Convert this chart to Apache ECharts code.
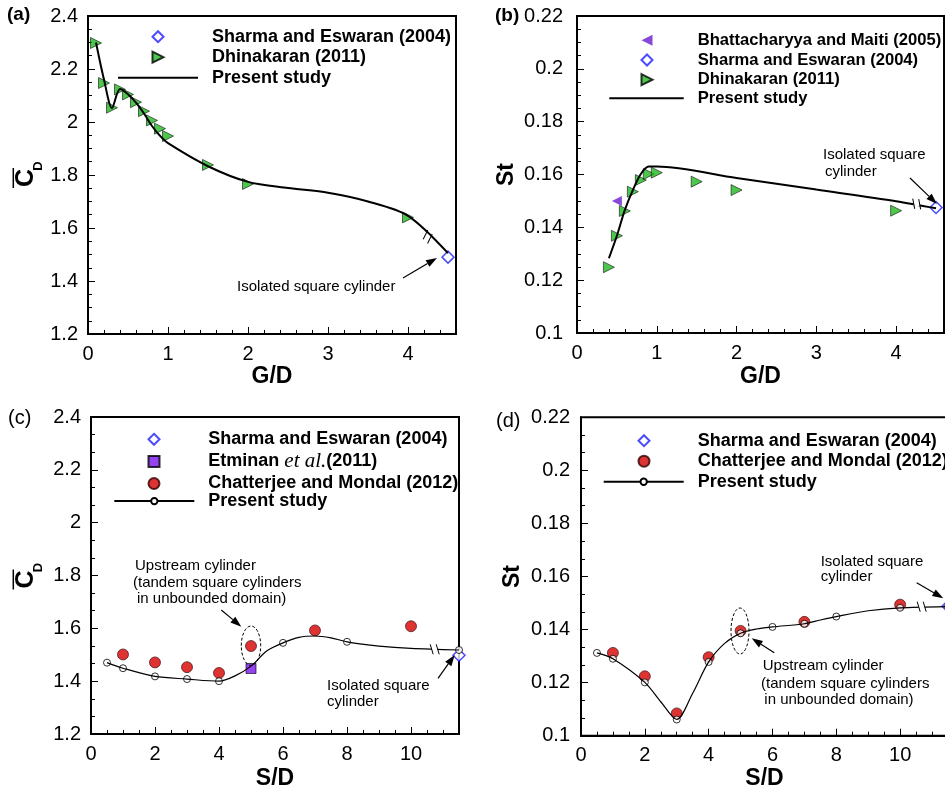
<!DOCTYPE html>
<html>
<head>
<meta charset="utf-8">
<script src="https://cdn.jsdelivr.net/npm/echarts@6/dist/echarts.min.js"></script>
<style>
  body { margin: 0; background: #fff; }
  .panel { position: absolute; overflow: hidden; }
</style>
</head>
<body>
<div id="pa" class="panel" style="left:0;top:0;width:472px;height:390px"></div>
<div id="pb" class="panel" style="left:472px;top:0;width:473px;height:390px"></div>
<div id="pc" class="panel" style="left:0;top:390px;width:472px;height:401px"></div>
<div id="pd" class="panel" style="left:472px;top:390px;width:473px;height:401px"></div>
<script>
// ---- panel (a): mean drag vs G/D
const gdA_sharma = [4.5];
const cdA_sharma = [1.49];
const gdA_dhin = [0.1, 0.2, 0.3, 0.4, 0.5, 0.6, 0.7, 0.8, 0.9, 1.0, 1.5, 2.0, 4.0];
const cdA_dhin = [2.298, 2.147, 2.054, 2.123, 2.104, 2.075, 2.041, 2.006, 1.975, 1.947, 1.838, 1.766, 1.640];
const gdA_pres = [0.1, 0.2, 0.3, 0.4, 0.5, 0.6, 0.7, 0.8, 0.9, 1.0, 1.5, 2.0, 2.5, 3.0, 3.5, 4.0, 4.5];
const cdA_pres = [2.30, 2.16, 2.053, 2.125, 2.105, 2.073, 2.032, 1.985, 1.948, 1.92, 1.833, 1.774, 1.751, 1.733, 1.70, 1.646, 1.505];

// ---- panel (b): St vs G/D
const gdB_bhatt = [0.5];
const stB_bhatt = [0.150];
const gdB_sharma = [4.5];
const stB_sharma = [0.1475];
const gdB_dhin = [0.4, 0.5, 0.6, 0.7, 0.8, 0.9, 1.0, 1.5, 2.0, 4.0];
const stB_dhin = [0.1249, 0.1368, 0.1462, 0.1535, 0.1579, 0.1602, 0.1607, 0.1573, 0.1541, 0.1463];
const gdB_pres = [0.4, 0.5, 0.6, 0.7, 0.8, 0.9, 1.0, 2.0, 3.0, 4.0, 4.5];
const stB_pres = [0.1283, 0.1368, 0.1466, 0.1541, 0.1602, 0.1630, 0.1630, 0.1587, 0.1543, 0.1499, 0.1472];

// ---- panel (c): mean drag vs S/D
const sdC_sharma = [11.5];
const cdC_sharma = [1.498];
const sdC_etminan = [5];
const cdC_etminan = [1.448];
const sdC_chat = [1, 2, 3, 4, 5, 7, 10];
const cdC_chat = [1.501, 1.471, 1.453, 1.431, 1.533, 1.592, 1.608];
const sdC_curve = [0.5, 1, 2, 3, 4, 4.5, 5, 5.5, 6, 6.5, 7, 7.5, 8, 9, 10, 11.5];
const cdC_curve = [1.470, 1.449, 1.418, 1.408, 1.400, 1.420, 1.457, 1.515, 1.545, 1.566, 1.571, 1.564, 1.549, 1.533, 1.524, 1.518];
const sdC_pts = [0.5, 1, 2, 3, 4, 6, 8, 11.5];
const cdC_pts = [1.470, 1.449, 1.418, 1.408, 1.400, 1.545, 1.549, 1.518];

// ---- panel (d): St vs S/D
const sdD_sharma = [11.5];
const stD_sharma = [0.1488];
const sdD_chat = [1, 2, 3, 4, 5, 7, 10];
const stD_chat = [0.1312, 0.1224, 0.1084, 0.1296, 0.1395, 0.1429, 0.1494];
const sdD_curve = [0.5, 1, 2, 2.5, 3, 3.5, 4, 4.5, 5, 5.5, 6, 7, 7.5, 8, 9, 10, 11.5];
const stD_curve = [0.1312, 0.129, 0.1201, 0.1128, 0.1061, 0.116, 0.1278, 0.1348, 0.1386, 0.1402, 0.141, 0.1422, 0.1436, 0.1449, 0.1471, 0.1482, 0.1487];
const sdD_pts = [0.5, 1, 2, 3, 4, 5, 6, 7, 8, 10, 11.5];
const stD_pts = [0.1312, 0.129, 0.1201, 0.1061, 0.1278, 0.1386, 0.141, 0.1422, 0.1449, 0.1482, 0.1487];

const FONT = 'Liberation Sans, Arial, Helvetica, sans-serif';

// legend icons for the sideways triangles (legend does not pick up symbolRotate)
const RIGHT_TRI = 'path://M0,0L10,5L0,10Z';
const LEFT_TRI = 'path://M10,0L0,5L10,10Z';

function pairs(xs, ys) {
    return xs.map((x, i) => [x, ys[i]]);
}

// marker styles shared by the panels
const sharmaStyle = { type: 'scatter', symbol: 'diamond', symbolSize: 12, itemStyle: { color: '#fff', borderColor: '#1f1fff', borderWidth: 1.5 } };
const dhinStyle = { type: 'scatter', symbol: 'triangle', symbolRotate: -90, symbolSize: 11, itemStyle: { color: '#22b822', borderColor: '#000', borderWidth: 0.7 } };
const chatStyle = { type: 'scatter', symbol: 'circle', symbolSize: 11, itemStyle: { color: '#d40000', borderColor: '#300', borderWidth: 0.8 } };
const openStyle = { type: 'scatter', symbol: 'circle', symbolSize: 7, itemStyle: { color: '#fff', borderColor: '#000', borderWidth: 1 } };

function xAxes(max, step, minorStep, name, nameGap) {
    return [{
        type: 'value', min: 0, max: max, interval: step,
        name: name, nameLocation: 'middle', nameGap: nameGap, nameMoveOverlap: false,
        nameTextStyle: { fontFamily: FONT, fontWeight: 'bold', fontSize: 23, color: '#000' },
        axisLine: { show: true, onZero: false, lineStyle: { color: '#000', width: 2 } },
        axisTick: { show: true, inside: true, length: 7, lineStyle: { color: '#000' } },
        axisLabel: {
            fontFamily: FONT, fontSize: 20, color: '#000', margin: 10,
            formatter: v => Math.abs(v / step - Math.round(v / step)) < 1e-6 ? String(v) : ''
        },
        splitLine: { show: false }
    }, {
        // minor ticks only
        type: 'value', min: 0, max: max, interval: minorStep, position: 'bottom',
        axisLine: { show: false }, axisLabel: { show: false }, splitLine: { show: false },
        axisTick: { show: true, inside: true, length: 4, lineStyle: { color: '#000' } }
    }];
}

function yAxis(min, max, step, minorSplit, margin, name, nameGap) {
    return {
        type: 'value', min: min, max: max, interval: step,
        name: name || '', nameLocation: 'middle', nameGap: nameGap || 0, nameRotate: 90, nameMoveOverlap: false,
        nameTextStyle: { fontFamily: FONT, fontWeight: 'bold', fontSize: 23, color: '#000' },
        axisLine: { show: true, onZero: false, lineStyle: { color: '#000', width: 2 } },
        axisTick: { show: true, inside: true, length: 7, lineStyle: { color: '#000' } },
        minorTick: { show: true, splitNumber: minorSplit, length: 4, lineStyle: { color: '#000' } },
        axisLabel: { fontFamily: FONT, fontSize: 20, color: '#000', margin: margin },
        splitLine: { show: false }
    };
}

// two legend blocks: markers (small icon box) and the line entry (wide icon box)
function legendsOf(cfg) {
    const rowH = cfg.fontSize + cfg.gap;
    const textStyle = pad => ({
        fontFamily: FONT, fontWeight: 'bold', fontSize: cfg.fontSize, color: '#000',
        lineHeight: cfg.fontSize, padding: [0, 0, 0, pad],
        rich: { i: { fontFamily: 'Liberation Serif', fontStyle: 'italic', fontWeight: 'normal', fontSize: 21, color: '#000' } }
    });
    const base = {
        orient: 'vertical', padding: 0, itemGap: cfg.gap, selectedMode: false,
        formatter: n => n === 'Etminan et al. (2011)' ? 'Etminan {i|et al.}(2011)' : n
    };
    const s = 11;
    const markData = cfg.marks.map(n => {
        if (n === 'Dhinakaran (2011)') return { name: n, icon: RIGHT_TRI };
        if (n === 'Bhattacharyya and Maiti (2005)') return { name: n, icon: LEFT_TRI };
        return n;
    });
    return [
        Object.assign({}, base, {
            left: cfg.cx - s / 2, top: cfg.top, itemWidth: s, itemHeight: s,
            data: markData,
            textStyle: textStyle(cfg.textX - (cfg.cx - s / 2) - s - 5)
        }),
        Object.assign({}, base, {
            left: cfg.lineLeft, top: cfg.top + cfg.marks.length * rowH, itemWidth: cfg.lineW, itemHeight: 8,
            data: [cfg.plain ? { name: 'Present study', itemStyle: { opacity: 0 } } : 'Present study'],
            textStyle: textStyle(cfg.textX - cfg.lineLeft - cfg.lineW - 5)
        })
    ];
}

// ---- graphic helpers (annotations)
function txt(x, y, s, size, weight) {
    return {
        type: 'text', x: x, y: y, z: 100,
        style: {
            text: s, fill: '#000', fontFamily: FONT, fontSize: size || 15, fontWeight: weight || 'normal',
            textVerticalAlign: 'middle', verticalAlign: 'middle'
        }
    };
}

function arrow(x1, y1, x2, y2) {
    const a = Math.atan2(y2 - y1, x2 - x1), L = 11, W = 3.8;
    const bx = x2 - L * Math.cos(a), by = y2 - L * Math.sin(a);
    const px = -Math.sin(a) * W, py = Math.cos(a) * W;
    return [
        { type: 'line', z: 100, shape: { x1: x1, y1: y1, x2: bx, y2: by }, style: { stroke: '#000', lineWidth: 1.2 } },
        { type: 'polygon', z: 100, shape: { points: [[x2, y2], [bx + px, by + py], [bx - px, by - py]] }, style: { fill: '#000' } }
    ];
}

function ellipse(cx, cy, rx, ry) {
    return { type: 'ellipse', z: 100, shape: { cx: cx, cy: cy, rx: rx, ry: ry }, style: { fill: 'none', stroke: '#000', lineWidth: 1, lineDash: [3, 2] } };
}

// small break mark sitting on the curve
function brk(x, y, rot) {
    return {
        type: 'group', x: x, y: y, rotation: rot, z: 100,
        children: [
            { type: 'rect', z: 100, shape: { x: -3, y: -2, width: 6, height: 4 }, style: { fill: '#fff' } },
            { type: 'line', z: 101, shape: { x1: -4.5, y1: -5, x2: -1.5, y2: 5 }, style: { stroke: '#000', lineWidth: 1 } },
            { type: 'line', z: 101, shape: { x1: 1.5, y1: -5, x2: 4.5, y2: 5 }, style: { stroke: '#000', lineWidth: 1 } }
        ]
    };
}

// rotated C-bar with subscript D
function cdTitle(x, y) {
    const st = { fill: '#000', fontFamily: FONT, fontWeight: 'bold', textAlign: 'center', align: 'center', textVerticalAlign: 'middle', verticalAlign: 'middle' };
    return {
        type: 'group', x: x, y: y, rotation: Math.PI / 2,
        children: [
            { type: 'text', z: 100, x: 0, y: 0, style: Object.assign({ text: 'C', fontSize: 25 }, st) },
            { type: 'text', z: 100, x: 12, y: 12, style: Object.assign({ text: 'D', fontSize: 13 }, st) },
            { type: 'line', z: 100, shape: { x1: -10, y1: -12.7, x2: 10, y2: -12.7 }, style: { stroke: '#000', lineWidth: 1.5 } }
        ]
    };
}

function gridOf(left, top, width, height) {
    return { left: left, top: top, width: width, height: height, show: true, borderColor: '#000', borderWidth: 2, containLabel: false, outerBoundsMode: 'none' };
}

// ---------------- (a)
const optA = {
    animation: false,
    grid: gridOf(88, 16, 368, 318),
    xAxis: xAxes(4.6, 1, 0.2, 'G/D', 31),
    yAxis: yAxis(1.2, 2.4, 0.2, 4, 10),
    legend: legendsOf({ cx: 157, lineLeft: 117, lineW: 80, textX: 211, top: 27.7, fontSize: 18, gap: 2.5, plain: true,
        marks: ['Sharma and Eswaran (2004)', 'Dhinakaran (2011)'] }),
    series: [
        Object.assign({ name: 'Sharma and Eswaran (2004)', data: pairs(gdA_sharma, cdA_sharma) }, sharmaStyle),
        Object.assign({ name: 'Dhinakaran (2011)', data: pairs(gdA_dhin, cdA_dhin) }, dhinStyle),
        { name: 'Present study', type: 'line', smooth: 0.3, symbol: 'none', data: pairs(gdA_pres, cdA_pres), lineStyle: { color: '#000', width: 2 }, itemStyle: { color: '#000' } }
    ],
    graphic: { elements: [
        txt(7, 15, '(a)', 19, 'bold'),
        cdTitle(26, 178),
        txt(237, 287, 'Isolated square cylinder'),
        ...arrow(403, 278, 437, 258),
        brk(427.7, 236.7, -0.75)
    ] }
};

// ---------------- (b)
const optB = {
    animation: false,
    grid: gridOf(105, 16, 367, 317),
    xAxis: xAxes(4.6, 1, 0.2, 'G/D', 32),
    yAxis: yAxis(0.1, 0.22, 0.02, 4, 14, 'St', 59),
    legend: legendsOf({ cx: 174, lineLeft: 136.3, lineW: 74.4, textX: 224.7, top: 31.8, fontSize: 16.6, gap: 2.7, plain: true,
        marks: ['Bhattacharyya and Maiti (2005)', 'Sharma and Eswaran (2004)', 'Dhinakaran (2011)'] }),
    series: [
        { name: 'Bhattacharyya and Maiti (2005)', type: 'scatter', symbol: 'triangle', symbolRotate: 90, symbolSize: 10, data: pairs(gdB_bhatt, stB_bhatt), itemStyle: { color: '#6a1ccf' } },
        Object.assign({ name: 'Sharma and Eswaran (2004)', data: pairs(gdB_sharma, stB_sharma) }, sharmaStyle),
        Object.assign({ name: 'Dhinakaran (2011)', data: pairs(gdB_dhin, stB_dhin) }, dhinStyle),
        { name: 'Present study', type: 'line', smooth: 0.3, symbol: 'none', data: pairs(gdB_pres, stB_pres), lineStyle: { color: '#000', width: 2 }, itemStyle: { color: '#000' } }
    ],
    graphic: { elements: [
        txt(23, 16, '(b)', 19, 'bold'),
        txt(351, 155, 'Isolated square'),
        txt(353, 172, 'cylinder'),
        ...arrow(438, 178, 465, 204),
        brk(444.7, 204, -0.1)
    ] }
};

// ---------------- (c)
const optC = {
    animation: false,
    grid: gridOf(91, 27, 368, 317),
    xAxis: xAxes(11.5, 2, 0.5, 'S/D', 33),
    yAxis: yAxis(1.2, 2.4, 0.2, 3, 10),
    legend: legendsOf({ cx: 153, lineLeft: 113.3, lineW: 80, textX: 207.3, top: 40.3, fontSize: 18, gap: 2.6, plain: false,
        marks: ['Sharma and Eswaran (2004)', 'Etminan et al. (2011)', 'Chatterjee and Mondal (2012)'] }),
    series: [
        Object.assign({ name: 'Sharma and Eswaran (2004)', data: pairs(sdC_sharma, cdC_sharma) }, sharmaStyle),
        { name: 'Etminan et al. (2011)', type: 'scatter', symbol: 'rect', symbolSize: 10, data: pairs(sdC_etminan, cdC_etminan), itemStyle: { color: '#7a14ee', borderColor: '#000', borderWidth: 0.8 } },
        Object.assign({ name: 'Chatterjee and Mondal (2012)', data: pairs(sdC_chat, cdC_chat) }, chatStyle),
        { name: 'Present study', type: 'line', smooth: 0.3, symbol: 'circle', symbolSize: 7, showSymbol: false, data: pairs(sdC_curve, cdC_curve), lineStyle: { color: '#000', width: 1.2 }, itemStyle: { color: '#fff', borderColor: '#000', borderWidth: 1 } },
        Object.assign({ name: 'Present study points', data: pairs(sdC_pts, cdC_pts) }, openStyle)
    ],
    graphic: { elements: [
        txt(8, 28, '(c)', 20),
        cdTitle(26, 189.5),
        txt(135, 175.7, 'Upstream cylinder'),
        txt(133, 193, '(tandem square cylinders'),
        txt(137, 209, 'in unbounded domain)'),
        ...arrow(221.3, 220, 241.3, 236.7),
        ellipse(251, 255.7, 9.7, 19.7),
        txt(327, 296, 'Isolated square'),
        txt(327, 312, 'cylinder'),
        ...arrow(438, 288.3, 454.7, 265),
        brk(434.7, 259.3, 0)
    ] }
};

// ---------------- (d)
const optD = {
    animation: false,
    grid: gridOf(109, 27.3, 367, 318.4),
    xAxis: xAxes(11.5, 2, 0.5, 'S/D', 31),
    yAxis: yAxis(0.1, 0.22, 0.02, 3, 11, 'St', 57),
    legend: legendsOf({ cx: 171, lineLeft: 130.7, lineW: 80, textX: 224.7, top: 41.7, fontSize: 18, gap: 2.5, plain: false,
        marks: ['Sharma and Eswaran (2004)', 'Chatterjee and Mondal (2012)'] }),
    series: [
        Object.assign({ name: 'Sharma and Eswaran (2004)', data: pairs(sdD_sharma, stD_sharma) }, sharmaStyle),
        Object.assign({ name: 'Chatterjee and Mondal (2012)', data: pairs(sdD_chat, stD_chat) }, chatStyle),
        { name: 'Present study', type: 'line', smooth: 0.3, symbol: 'circle', symbolSize: 7, showSymbol: false, data: pairs(sdD_curve, stD_curve), lineStyle: { color: '#000', width: 1.2 }, itemStyle: { color: '#fff', borderColor: '#000', borderWidth: 1 } },
        Object.assign({ name: 'Present study points', data: pairs(sdD_pts, stD_pts) }, openStyle)
    ],
    graphic: { elements: [
        txt(24, 31, '(d)', 20),
        txt(290.7, 276, 'Upstream cylinder'),
        txt(289, 294.3, '(tandem square cylinders'),
        txt(292.3, 310, 'in unbounded domain)'),
        ...arrow(302.3, 262.7, 279.7, 248.3),
        ellipse(268, 241, 9, 23),
        txt(348.7, 172.3, 'Isolated square'),
        txt(348.7, 187.3, 'cylinder'),
        ...arrow(444.7, 192.7, 471.3, 208.3),
        brk(449.7, 216.7, 0)
    ] }
};

[['pa', optA], ['pb', optB], ['pc', optC], ['pd', optD]].forEach(([id, opt]) => {
    const chart = echarts.init(document.getElementById(id), null, { renderer: 'canvas' });
    chart.setOption(opt);
});
</script>
</body>
</html>
